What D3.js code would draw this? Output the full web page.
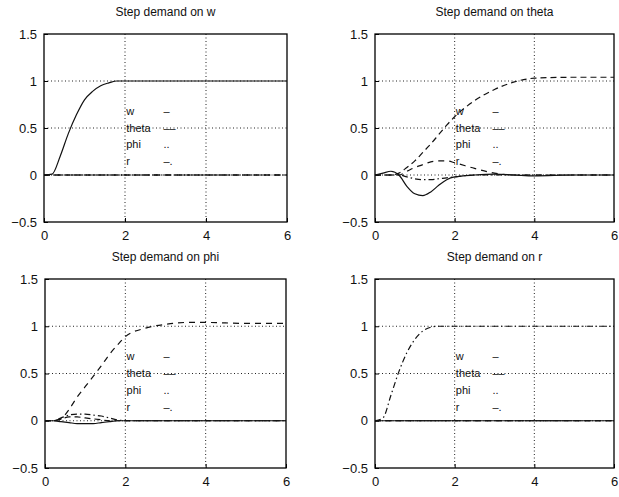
<!DOCTYPE html>
<html>
<head>
<meta charset="utf-8">
<script src="https://cdn.jsdelivr.net/npm/d3@7"></script>
<style>
  body { margin: 0; background: #fff; }
  text { font-family: "Liberation Sans", Arial, sans-serif; fill: #111; }
</style>
</head>
<body>
<div id="chart"></div>
<script>
// time samples shared by every response
var time = [0, 0.2, 0.4, 0.6, 0.8, 1.0, 1.2, 1.4, 1.6, 1.8, 2.0, 2.5, 3.0, 3.5, 4.0, 5.0, 6.0];
var zeros = [0, 0, 0, 0, 0, 0, 0, 0, 0, 0, 0, 0, 0, 0, 0, 0, 0];

// step demand on w
var w_w     = [0, 0.01, 0.2, 0.44, 0.64, 0.8, 0.89, 0.95, 0.98, 1.0, 1.0, 1.0, 1.0, 1.0, 1.0, 1.0, 1.0];

// step demand on theta
var theta_w     = [0, 0.02, 0.04, 0.0, -0.12, -0.2, -0.22, -0.18, -0.11, -0.05, -0.02, 0, 0.01, 0, -0.01, 0, 0];
var theta_theta = [0, 0, 0, 0.02, 0.08, 0.15, 0.24, 0.33, 0.43, 0.53, 0.62, 0.79, 0.91, 0.99, 1.03, 1.04, 1.04];
var theta_phi   = [0, 0, 0, 0, 0.04, 0.08, 0.11, 0.14, 0.15, 0.15, 0.13, 0.07, 0.02, 0, 0, 0, 0];
var theta_r     = [0, 0, 0, 0, -0.02, -0.04, -0.05, -0.05, -0.04, -0.03, -0.02, 0, 0, 0, 0, 0, 0];

// step demand on phi
var phi_w     = [0, 0, -0.01, -0.02, -0.03, -0.03, -0.03, -0.02, -0.01, 0, 0, 0, 0, 0, 0, 0, 0];
var phi_theta = [0, 0, 0.02, 0.04, 0.04, 0.03, 0.02, 0.01, 0, 0, 0, 0, 0, 0, 0, 0, 0];
var phi_phi   = [0, 0, 0.02, 0.12, 0.25, 0.36, 0.47, 0.58, 0.7, 0.8, 0.89, 0.98, 1.02, 1.04, 1.04, 1.03, 1.03];
var phi_r     = [0, 0, 0.03, 0.06, 0.07, 0.07, 0.06, 0.05, 0.03, 0.01, 0, 0, 0, 0, 0, 0, 0];

// step demand on r
var r_r = [0, 0.03, 0.27, 0.52, 0.72, 0.86, 0.95, 0.99, 1.0, 1.0, 1.0, 1.0, 1.0, 1.0, 1.0, 1.0, 1.0];

var titles = ["Step demand on w", "Step demand on theta", "Step demand on phi", "Step demand on r"];
var xTicks = [0, 2, 4, 6];
var yTicks = [-0.5, 0, 0.5, 1, 1.5];
var legendNames = ["w", "theta", "phi", "r"];
var legendMarks = ["\u2013", "\u2013\u2013", "..", "\u2013."];

var dashes = { w: null, theta: "6,4", phi: "6,5", r: "6,3,1.5,3" };

var panels = [
  { title: titles[0], series: { theta: zeros, phi: zeros, r: zeros, w: w_w } },
  { title: titles[1], series: { theta: theta_theta, phi: theta_phi, r: theta_r, w: theta_w } },
  { title: titles[2], series: { theta: phi_theta, phi: phi_phi, r: phi_r, w: phi_w } },
  { title: titles[3], series: { theta: zeros, phi: zeros, w: zeros, r: r_r } }
];

// subplot boxes
var boxes = [
  { left: 44, top: 34, width: 243, height: 188 },
  { left: 375, top: 34, width: 239, height: 188 },
  { left: 45, top: 279, width: 241, height: 189 },
  { left: 375, top: 279, width: 239, height: 189 }
];

var svg = d3.select("#chart").append("svg")
    .attr("width", 619)
    .attr("height", 497);

panels.forEach(function(p, i) {
  var b = boxes[i];
  var g = svg.append("g").attr("transform", "translate(" + b.left + "," + b.top + ")");

  var x = d3.scaleLinear().domain([0, 6]).range([0, b.width]);
  var y = d3.scaleLinear().domain([-0.5, 1.5]).range([b.height, 0]);

  // grid
  g.selectAll(".gx").data([2, 4]).enter().append("line")
      .attr("x1", function(d) { return x(d); }).attr("x2", function(d) { return x(d); })
      .attr("y1", 0).attr("y2", b.height)
      .attr("stroke", "#222").attr("stroke-width", 1).attr("stroke-dasharray", "1,2.5");
  g.selectAll(".gy").data([0, 0.5, 1]).enter().append("line")
      .attr("x1", 0).attr("x2", b.width)
      .attr("y1", function(d) { return y(d); }).attr("y2", function(d) { return y(d); })
      .attr("stroke", "#222").attr("stroke-width", 1).attr("stroke-dasharray", "1,2.5");

  // axes with inward ticks
  var xa = g.append("g").attr("transform", "translate(0," + b.height + ")")
      .call(d3.axisBottom(x).tickValues(xTicks).tickSizeInner(-4).tickSizeOuter(0).tickPadding(9)
        .tickFormat(d3.format("d")));
  var ya = g.append("g")
      .call(d3.axisLeft(y).tickValues(yTicks).tickSizeInner(-4).tickSizeOuter(0).tickPadding(7)
        .tickFormat(function(d) { return d === 0 ? "0" : String(d).replace("-", "\u2212"); }));
  [xa, ya].forEach(function(a) {
    a.select(".domain").remove();
    a.selectAll("text").style("font-size", "13px").style("font-family", "Liberation Sans, Arial, sans-serif");
  });

  // frame
  g.append("rect").attr("width", b.width).attr("height", b.height)
      .attr("fill", "none").attr("stroke", "#000").attr("stroke-width", 1.3);

  // curves
  var line = d3.line()
      .x(function(d, k) { return x(time[k]); })
      .y(function(d) { return y(d); })
      .curve(d3.curveMonotoneX);
  Object.keys(p.series).forEach(function(k) {
    g.append("path")
        .datum(p.series[k])
        .attr("fill", "none")
        .attr("stroke", "#111")
        .attr("stroke-width", 1.2)
        .attr("stroke-dasharray", dashes[k])
        .attr("d", line);
  });

  // legend (no box)
  legendNames.forEach(function(n, k) {
    var yy = y(0.68 - k * 0.177);
    g.append("text").attr("x", x(2.03)).attr("y", yy + 4)
        .style("font-size", "11px").text(n);
    g.append("text").attr("x", x(2.95)).attr("y", yy + 4)
        .style("font-size", "11px").text(legendMarks[k]);
  });

  // title
  svg.append("text")
      .attr("x", b.left + b.width / 2)
      .attr("y", b.top - 18)
      .attr("text-anchor", "middle")
      .style("font-size", "12px")
      .text(p.title);
});
</script>
</body>
</html>
